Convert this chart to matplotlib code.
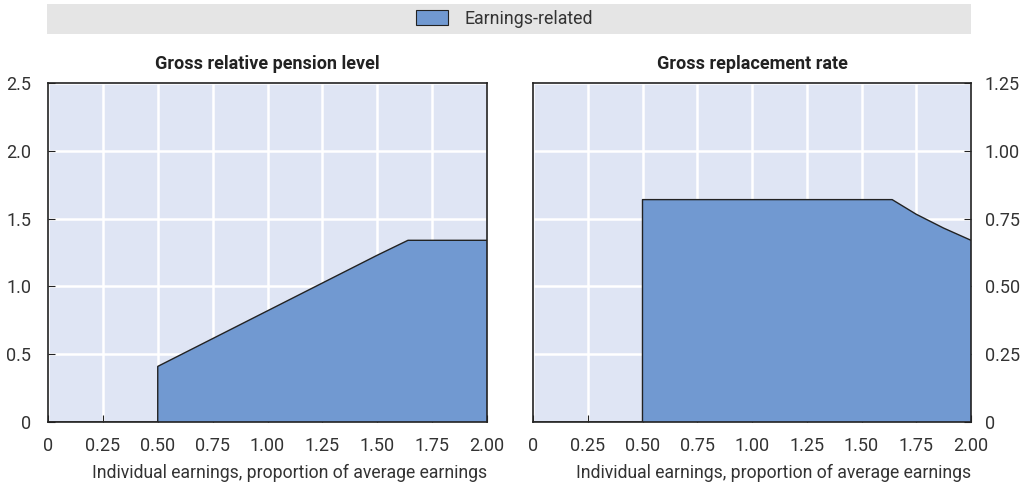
import matplotlib
matplotlib.use("Agg")
import matplotlib.pyplot as plt
from matplotlib.patches import Rectangle, Patch

plt.rcParams['font.family'] = ['Roboto', 'DejaVu Sans']

# Individual earnings (proportion of average earnings)
earnings = [0, 0.25, 0.4999, 0.5, 0.75, 1.0, 1.25, 1.5, 1.64, 1.75, 1.875, 2.0]
# Gross relative pension level
pension_level = [0, 0, 0, 0.41, 0.615, 0.82, 1.025, 1.23, 1.34, 1.34, 1.34, 1.34]
# Gross replacement rate
replacement_rate = [0, 0, 0, 0.82, 0.82, 0.82, 0.82, 0.82, 0.82, 0.766, 0.715, 0.67]

x_ticks = [0, 0.25, 0.5, 0.75, 1.0, 1.25, 1.5, 1.75, 2.0]
x_labels = ['0', '0.25', '0.50', '0.75', '1.00', '1.25', '1.50', '1.75', '2.00']
left_yticks = [0, 0.5, 1.0, 1.5, 2.0, 2.5]
left_ylabels = ['0', '0.5', '1.0', '1.5', '2.0', '2.5']
right_yticks = [0, 0.25, 0.5, 0.75, 1.0, 1.25]
right_ylabels = ['0', '0.25', '0.50', '0.75', '1.00', '1.25']

fill_col = '#7199d1'
bg_col = '#dfe5f4'
edge_col = '#222222'
text_col = '#333333'

fig = plt.figure(figsize=(10.24, 4.87), dpi=100)

# legend band
fig.patches.append(Rectangle((47 / 1024, 1 - 34 / 487), 924 / 1024, 30 / 487,
                             transform=fig.transFigure, facecolor='#e5e5e5',
                             edgecolor='none', zorder=0))
fig.legend(handles=[Patch(facecolor=fill_col, edgecolor=edge_col, linewidth=0.8,
                          label='Earnings-related')],
           loc='center', bbox_to_anchor=(0.4925, 1 - 19 / 487), frameon=False,
           fontsize=12.8, handlelength=1.8, handleheight=0.9, handletextpad=0.9,
           labelcolor=text_col)

ax1 = fig.add_axes([48 / 1024, 65 / 487, 439 / 1024, 339 / 487])
ax2 = fig.add_axes([533 / 1024, 65 / 487, 438 / 1024, 339 / 487])

panels = [
    (ax1, pension_level, 'Gross relative pension level', 2.5, left_yticks, left_ylabels, 'left'),
    (ax2, replacement_rate, 'Gross replacement rate', 1.25, right_yticks, right_ylabels, 'right'),
]

for ax, vals, title, ymax, yt, yl, side in panels:
    ax.set_facecolor(bg_col)
    ax.fill_between(earnings, vals, 0, facecolor=fill_col, edgecolor='none', zorder=2)
    ax.plot(earnings, vals, color=edge_col, linewidth=1.0, zorder=3)
    ax.set_xlim(0, 2.0)
    ax.set_ylim(0, ymax)
    ax.set_xticks(x_ticks)
    ax.set_xticklabels(x_labels)
    ax.set_yticks(yt)
    ax.set_yticklabels(yl)
    ax.grid(True, color='white', linewidth=1.8, zorder=1)
    ax.set_axisbelow(True)
    for s in ax.spines.values():
        s.set_color(edge_col)
        s.set_linewidth(1.2)
        s.set_zorder(4)
    ax.tick_params(axis='both', direction='in', length=5, width=0.8, color=edge_col,
                   labelsize=13, labelcolor=text_col)
    ax.tick_params(axis='x', pad=11)
    if side == 'right':
        ax.yaxis.tick_right()
        ax.tick_params(axis='y', pad=10)
    else:
        ax.tick_params(axis='y', pad=12)
    ax.set_title(title, fontsize=13, fontweight='bold', color='#222222', pad=10)
    ax.set_xlabel('Individual earnings, proportion of average earnings',
                  fontsize=12.7, color=text_col, labelpad=6, loc='right')

fig.savefig('out.png', dpi=100)
